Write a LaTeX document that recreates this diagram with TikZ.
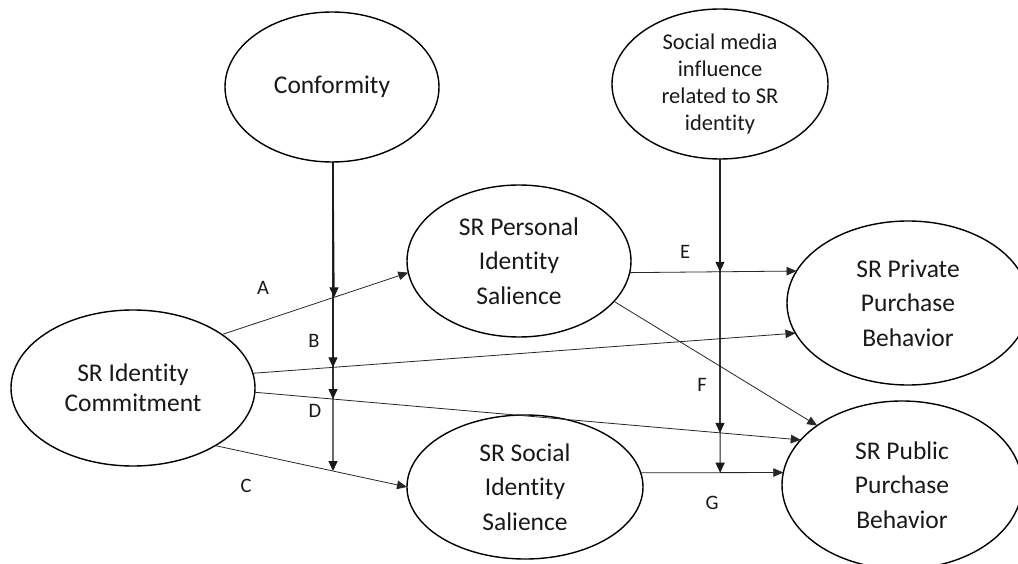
\documentclass[tikz,border=0pt]{standalone}
\usepackage{fontspec}
\setmainfont{Carlito}[Ligatures=NoCommon]
\usetikzlibrary{shapes.geometric,arrows.meta}
\begin{document}
\begin{tikzpicture}[x=1pt,y=-1pt,
  construct/.style={ellipse,draw=black,line width=1.4pt,inner sep=0pt,outer sep=0pt,
    align=center,text=black!90,font=\fontsize{25.5}{34.5}\selectfont},
  link/.style={draw=black!85,line width=0.8pt,-{Triangle[length=10pt,width=8.5pt]}},
  moderator/.style={draw=black!90,line width=1.2pt,-{Triangle[length=10pt,width=9pt]}},
  tag/.style={inner sep=0pt,text=black!90,font=\fontsize{20.5}{20.5}\selectfont}]

\useasboundingbox (0,0) rectangle (1018,564);
\fill[white] (0,0) rectangle (1018,564);
\clip (0,0) rectangle (1018,564);

% constructs
\node[construct,minimum width=214pt,minimum height=150pt] (conf) at (332,87) {Conformity};
\node[construct,minimum width=216pt,minimum height=150pt,
      font=\fontsize{22.5}{27.3}\selectfont] (smi) at (720,84)
      {Social media\\influence\\related to SR\\identity};
\node[construct,minimum width=244pt,minimum height=156pt,
      font=\fontsize{25.5}{30}\selectfont] (comm) at (133,388) {SR Identity\\Commitment};
\node[construct,minimum width=224pt,minimum height=152pt] (pers) at (519,261)
      {SR Personal\\Identity\\Salience};
\node[construct,minimum width=236pt,minimum height=144pt] (soc) at (525,487)
      {SR Social\\Identity\\Salience};
\node[construct,minimum width=242pt,minimum height=164pt] (priv) at (908,303)
      {SR Private\\Purchase\\Behavior};
\node[construct,minimum width=240pt,minimum height=168pt] (pub) at (902,485)
      {SR Public\\Purchase\\Behavior};

% direct paths
\draw[link] (comm.31)  -- (pers.186);
\draw[link] (comm.7)   -- (priv.195);
\draw[link] (comm.358) -- (pub.156);
\draw[link] (comm.325) -- (soc.180);
\draw[link] (pers.354) -- (priv.164);
\draw[link] (pers.337) -- (pub.145);
\draw[link] (soc.7)    -- (pub.174);

% moderating arrows
\coordinate (ctop) at ([xshift=1pt]conf.south);
\coordinate (cfoot) at (333,600);
\coordinate (cfootA) at (336.5,600);
\coordinate (stop) at (smi.south);
\coordinate (sfoot) at (720,600);

\draw[moderator] (ctop) -- (intersection cs: first line={(ctop)--(cfootA)}, second line={(comm.31)--(pers.186)});
\draw[moderator] (ctop) -- (intersection cs: first line={(ctop)--(cfoot)}, second line={(comm.7)--(priv.195)});
\draw[moderator] (ctop) -- (intersection cs: first line={(ctop)--(cfoot)}, second line={(comm.358)--(pub.156)});
\draw[moderator] (ctop) -- (intersection cs: first line={(ctop)--(cfoot)}, second line={(comm.325)--(soc.180)});

\draw[moderator] (stop) -- (intersection cs: first line={(stop)--(sfoot)}, second line={(pers.354)--(priv.164)});
\draw[moderator] (stop) -- (intersection cs: first line={(stop)--(sfoot)}, second line={(comm.358)--(pub.156)});
\draw[moderator] (stop) -- (intersection cs: first line={(stop)--(sfoot)}, second line={(soc.7)--(pub.174)});

% path labels
\node[tag] (la) at (263,288) {A};
\node[tag] (lb) at (314,341) {B};
\node[tag] (lc) at (246,486) {C};
\node[tag] (ld) at (315,411) {D};
\node[tag] (le) at (685,252) {E};
\node[tag] (lf) at (702,385) {F};
\node[tag] (lg) at (712,503) {G};
\end{tikzpicture}
\end{document}
